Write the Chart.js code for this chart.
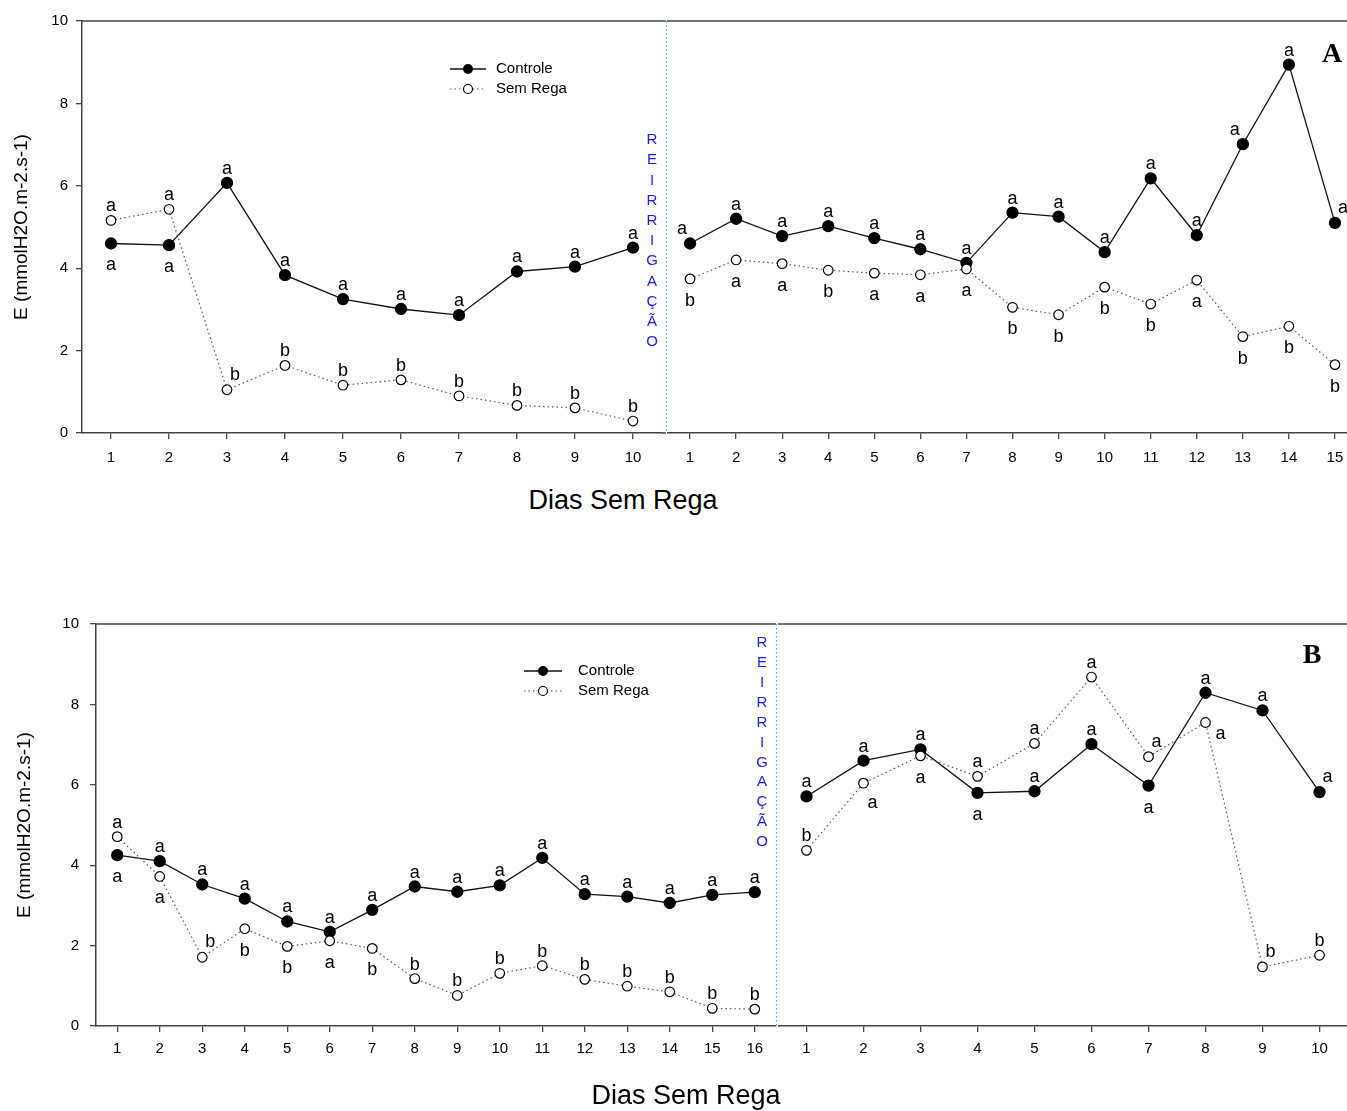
<!DOCTYPE html>
<html>
<head>
<meta charset="utf-8">
<script src="https://cdn.jsdelivr.net/npm/chart.js@4.4.1/dist/chart.umd.min.js"></script>
<style>
  html, body { margin: 0; padding: 0; background: #fff; overflow: hidden; }
  #page { position: relative; width: 1347px; height: 1111px; overflow: hidden; }
  canvas { position: absolute; }
  .xtitle {
    position: absolute;
    font-family: Arial, 'Liberation Sans', sans-serif;
    font-size: 27px;
    color: #000;
    white-space: nowrap;
    transform: translate(-50%, -50%);
  }
</style>
</head>
<body>
<div id="page">
  <canvas id="chartA1" width="667" height="480" style="left:0;top:0"></canvas>
  <canvas id="chartA2" width="700" height="480" style="left:667px;top:0"></canvas>
  <canvas id="chartB1" width="778" height="490" style="left:0;top:600px"></canvas>
  <canvas id="chartB2" width="572" height="490" style="left:778px;top:600px"></canvas>
  <div class="xtitle" style="left:623px;top:500px">Dias Sem Rega</div>
  <div class="xtitle" style="left:686px;top:1095px">Dias Sem Rega</div>
</div>
<script>
// Panel A - before / after re-irrigation
const daysA1 = ['1', '2', '3', '4', '5', '6', '7', '8', '9', '10'];
const daysA2 = ['1', '2', '3', '4', '5', '6', '7', '8', '9', '10', '11', '12', '13', '14', '15'];
const controleA1 = [4.60, 4.56, 6.07, 3.83, 3.25, 3.01, 2.86, 3.92, 4.04, 4.50];
const semRegaA1 = [5.16, 5.43, 1.05, 1.64, 1.16, 1.29, 0.90, 0.67, 0.61, 0.29];
const controleA2 = [4.60, 5.20, 4.78, 5.02, 4.73, 4.46, 4.13, 5.35, 5.25, 4.39, 6.18, 4.80, 7.01, 8.94, 5.10];
const semRegaA2 = [3.74, 4.20, 4.11, 3.95, 3.88, 3.84, 3.98, 3.05, 2.87, 3.54, 3.13, 3.71, 2.34, 2.59, 1.66];
const sigControleA1 = ['a', 'a', 'a', 'a', 'a', 'a', 'a', 'a', 'a', 'a'];
const sigSemRegaA1 = ['a', 'a', 'b', 'b', 'b', 'b', 'b', 'b', 'b', 'b'];
const sigControleA2 = ['a', 'a', 'a', 'a', 'a', 'a', 'a', 'a', 'a', 'a', 'a', 'a', 'a', 'a', 'a'];
const sigSemRegaA2 = ['b', 'a', 'a', 'b', 'a', 'a', 'a', 'b', 'b', 'b', 'b', 'a', 'b', 'b', 'b'];

// Panel B
const daysB1 = ['1', '2', '3', '4', '5', '6', '7', '8', '9', '10', '11', '12', '13', '14', '15', '16'];
const daysB2 = ['1', '2', '3', '4', '5', '6', '7', '8', '9', '10'];
const controleB1 = [4.25, 4.10, 3.52, 3.17, 2.60, 2.34, 2.89, 3.47, 3.34, 3.50, 4.18, 3.28, 3.22, 3.06, 3.26, 3.33];
const semRegaB1 = [4.71, 3.72, 1.71, 2.42, 1.98, 2.12, 1.93, 1.18, 0.76, 1.31, 1.50, 1.16, 0.99, 0.85, 0.44, 0.42];
const controleB2 = [5.71, 6.60, 6.88, 5.80, 5.84, 7.01, 5.98, 8.29, 7.85, 5.82];
const semRegaB2 = [4.37, 6.04, 6.72, 6.21, 7.03, 8.68, 6.70, 7.55, 1.47, 1.76];
const sigControleB1 = ['a', 'a', 'a', 'a', 'a', 'a', 'a', 'a', 'a', 'a', 'a', 'a', 'a', 'a', 'a', 'a'];
const sigSemRegaB1 = ['a', 'a', 'b', 'b', 'b', 'a', 'b', 'b', 'b', 'b', 'b', 'b', 'b', 'b', 'b', 'b'];
const sigControleB2 = ['a', 'a', 'a', 'a', 'a', 'a', 'a', 'a', 'a', 'a'];
const sigSemRegaB2 = ['b', 'a', 'a', 'a', 'a', 'a', 'a', 'a', 'b', 'b'];

const yTitle = 'E (mmolH2O.m-2.s-1)';
const FONT = "Arial, 'Liberation Sans', sans-serif";

// where each letter sits relative to its point: u=up, d=down, r=right ...
const LETTER_OFFSETS = { u: [0, -9], d: [0, 27], ur: [8, -10], ul: [-8, -9], dr: [9, 25], r: [15, 17] };

const sigLetters = {
    id: 'sigLetters',
    afterDatasetsDraw(chart) {
        const ctx = chart.ctx;
        ctx.save();
        ctx.font = '18px ' + FONT;
        ctx.fillStyle = '#000';
        ctx.textAlign = 'center';
        ctx.textBaseline = 'alphabetic';
        chart.data.datasets.forEach((ds, i) => {
            const meta = chart.getDatasetMeta(i);
            meta.data.forEach((pt, j) => {
                const off = LETTER_OFFSETS[ds.sigPos[j]];
                ctx.fillText(ds.sig[j], pt.x + off[0], pt.y + off[1]);
            });
        });
        ctx.restore();
    }
};

const frame = {
    id: 'frame',
    afterDraw(chart, args, opts) {
        const { ctx, chartArea: a } = chart;
        const ext = opts.extend || 0;
        ctx.save();
        ctx.strokeStyle = '#444';
        ctx.lineWidth = 1.5;
        ctx.beginPath();
        ctx.moveTo(a.left, a.top);
        ctx.lineTo(a.right + ext, a.top);
        if (ext) {
            ctx.moveTo(a.right, a.bottom);
            ctx.lineTo(a.right + ext, a.bottom);
        }
        ctx.stroke();

        if (opts.divider) {
            const x = a.right + ext + 0.5;
            ctx.strokeStyle = '#55aaff';
            ctx.lineWidth = 1.3;
            ctx.setLineDash([1.5, 2.5]);
            ctx.beginPath();
            ctx.moveTo(x, a.top);
            ctx.lineTo(x, a.bottom);
            ctx.stroke();
            ctx.setLineDash([]);

            ctx.fillStyle = '#1a1aff';
            ctx.font = '15px ' + FONT;
            ctx.textAlign = 'center';
            ctx.textBaseline = 'middle';
            Array.from('REIRRIGAÇÃO').forEach((ch, k) => {
                ctx.fillText(ch, opts.wordX, opts.wordY + k * opts.wordStep);
            });
        }

        if (opts.legend) {
            const L = opts.legend;
            ctx.textAlign = 'left';
            ctx.textBaseline = 'middle';
            ctx.font = '15px ' + FONT;
            ctx.fillStyle = '#000';
            // Controle
            ctx.strokeStyle = '#111';
            ctx.lineWidth = 1.3;
            ctx.beginPath();
            ctx.moveTo(L.x0, L.y);
            ctx.lineTo(L.x1, L.y);
            ctx.stroke();
            ctx.beginPath();
            ctx.arc((L.x0 + L.x1) / 2, L.y, 5, 0, Math.PI * 2);
            ctx.fill();
            ctx.fillText('Controle', L.tx, L.y);
            // Sem Rega
            const y2 = L.y + 20;
            ctx.strokeStyle = '#555';
            ctx.lineWidth = 1.2;
            ctx.setLineDash([1.5, 3]);
            ctx.beginPath();
            ctx.moveTo(L.x0, y2);
            ctx.lineTo(L.x1, y2);
            ctx.stroke();
            ctx.setLineDash([]);
            ctx.beginPath();
            ctx.arc((L.x0 + L.x1) / 2, y2, 4.5, 0, Math.PI * 2);
            ctx.fillStyle = '#fff';
            ctx.fill();
            ctx.strokeStyle = '#000';
            ctx.stroke();
            ctx.fillStyle = '#000';
            ctx.fillText('Sem Rega', L.tx, y2);
        }

        if (opts.panel) {
            ctx.font = 'bold 28px "Liberation Serif", "Times New Roman", serif';
            ctx.fillStyle = '#000';
            ctx.textAlign = 'center';
            ctx.textBaseline = 'middle';
            ctx.fillText(opts.panel.text, opts.panel.x, opts.panel.y);
        }
        ctx.restore();
    }
};

function makeChart(id, cfg) {
    const ctx = document.getElementById(id).getContext('2d');
    const axisGrid = { display: true, drawOnChartArea: false, drawTicks: true, tickLength: 6, color: '#444', lineWidth: 1.3 };
    const axisBorder = { display: true, color: '#444', width: 1.5 };

    return new Chart(ctx, {
        type: 'line',
        data: {
            labels: cfg.labels,
            datasets: [
                {
                    label: 'Controle',
                    data: cfg.controle,
                    sig: cfg.sigControle,
                    sigPos: cfg.posControle,
                    borderColor: '#111',
                    borderWidth: 1.3,
                    pointRadius: 5.5,
                    pointBackgroundColor: '#000',
                    pointBorderColor: '#000',
                    tension: 0,
                    order: 1
                },
                {
                    label: 'Sem Rega',
                    data: cfg.semRega,
                    sig: cfg.sigSemRega,
                    sigPos: cfg.posSemRega,
                    borderColor: '#555',
                    borderWidth: 1.2,
                    borderDash: [1.5, 3],
                    pointRadius: 4.8,
                    pointBackgroundColor: '#fff',
                    pointBorderColor: '#000',
                    pointBorderWidth: 1.2,
                    tension: 0,
                    order: 0
                }
            ]
        },
        options: {
            responsive: false,
            animation: false,
            devicePixelRatio: 1,
            // plot edges are fixed by hand, no extra room for the point markers
            layout: { padding: cfg.padding, autoPadding: false },
            plugins: {
                legend: { display: false },
                tooltip: { enabled: false },
                frame: cfg.frame
            },
            scales: {
                x: {
                    type: 'category',
                    offset: true,
                    grid: axisGrid,
                    border: axisBorder,
                    ticks: { color: '#000', font: { family: FONT, size: 15 }, padding: cfg.xPad, maxRotation: 0, autoSkip: false },
                    afterFit: s => {
                        s.height = cfg.xHeight;
                        s.paddingLeft = 0;
                        s.paddingRight = 0;
                    }
                },
                y: {
                    display: cfg.showY,
                    min: 0,
                    max: 10,
                    grid: axisGrid,
                    border: axisBorder,
                    ticks: { stepSize: 2, color: '#000', font: { family: FONT, size: 15 }, padding: cfg.yPad },
                    title: {
                        display: true,
                        text: yTitle,
                        color: '#000',
                        font: { family: FONT, size: 19 },
                        padding: { top: cfg.titlePad, bottom: 0 }
                    },
                    afterFit: s => {
                        s.width = cfg.yWidth;
                        s.paddingTop = 0;
                        s.paddingBottom = 0;
                    }
                }
            }
        },
        plugins: [sigLetters, frame]
    });
}

makeChart('chartA1', {
    labels: daysA1, controle: controleA1, semRega: semRegaA1,
    sigControle: sigControleA1, sigSemRega: sigSemRegaA1,
    posControle: ['d', 'd', 'u', 'u', 'u', 'u', 'u', 'u', 'u', 'u'],
    posSemRega: ['u', 'u', 'ur', 'u', 'u', 'u', 'u', 'u', 'u', 'u'],
    padding: { top: 21, right: 5, left: 0, bottom: 0 },
    showY: true, yWidth: 82, yPad: 8, titlePad: 10,
    xHeight: 47, xPad: 10,
    frame: {
        extend: 4, divider: true, wordX: 652, wordY: 140, wordStep: 20.2,
        legend: { x0: 450, x1: 486, y: 69, tx: 496 }
    }
});

makeChart('chartA2', {
    labels: daysA2, controle: controleA2, semRega: semRegaA2,
    sigControle: sigControleA2, sigSemRega: sigSemRegaA2,
    posControle: ['ul', 'u', 'u', 'u', 'u', 'u', 'u', 'u', 'u', 'u', 'u', 'u', 'ul', 'u', 'ur'],
    posSemRega: ['d', 'd', 'd', 'd', 'd', 'd', 'd', 'd', 'd', 'd', 'd', 'd', 'd', 'd', 'd'],
    padding: { top: 21, right: 9, left: 0, bottom: 0 },
    showY: false, yWidth: 0, yPad: 8, titlePad: 10,
    xHeight: 47, xPad: 10,
    frame: { panel: { text: 'A', x: 665, y: 55 } }
});

makeChart('chartB1', {
    labels: daysB1, controle: controleB1, semRega: semRegaB1,
    sigControle: sigControleB1, sigSemRega: sigSemRegaB1,
    posControle: ['d', 'u', 'u', 'u', 'u', 'u', 'u', 'u', 'u', 'u', 'u', 'u', 'u', 'u', 'u', 'u'],
    posSemRega: ['u', 'd', 'ur', 'd', 'd', 'd', 'd', 'u', 'u', 'u', 'u', 'u', 'u', 'u', 'u', 'u'],
    padding: { top: 24, right: 2, left: 0, bottom: 0 },
    showY: true, yWidth: 96, yPad: 11, titlePad: 13,
    xHeight: 64, xPad: 8,
    frame: {
        extend: 0, divider: true, wordX: 762, wordY: 43, wordStep: 19.9,
        legend: { x0: 524, x1: 562, y: 71, tx: 578 }
    }
});

makeChart('chartB2', {
    labels: daysB2, controle: controleB2, semRega: semRegaB2,
    sigControle: sigControleB2, sigSemRega: sigSemRegaB2,
    posControle: ['u', 'u', 'u', 'd', 'u', 'u', 'd', 'u', 'u', 'ur'],
    posSemRega: ['u', 'dr', 'd', 'u', 'u', 'u', 'ur', 'r', 'ur', 'u'],
    padding: { top: 24, right: 2, left: 0, bottom: 0 },
    showY: false, yWidth: 0, yPad: 8, titlePad: 10,
    xHeight: 64, xPad: 8,
    frame: { panel: { text: 'B', x: 534, y: 56 } }
});
</script>
</body>
</html>
